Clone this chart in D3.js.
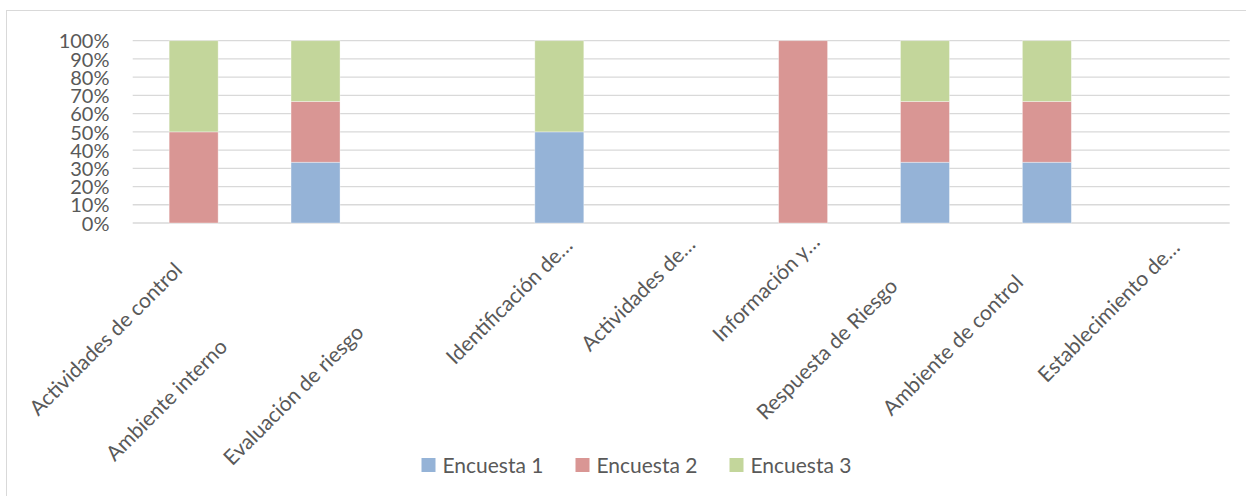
<!DOCTYPE html>
<html>
<head>
<meta charset="utf-8">
<script src="https://cdn.jsdelivr.net/npm/d3@7"></script>
<style>
  body { margin: 0; background: #fff; }
  svg { display: block; font-family: Lato, "Open Sans", sans-serif; }
</style>
</head>
<body>
<svg id="chart" width="1246" height="496"></svg>
<script>
// Components evaluated in each survey (labels as shown on the axis)
const categories = [
  "Actividades de control",
  "Ambiente interno",
  "Evaluación de riesgo",
  "Identificación de…",
  "Actividades de…",
  "Información y…",
  "Respuesta de Riesgo",
  "Ambiente de control",
  "Establecimiento de…"
];

// Responses per component in each survey (shown as share of the component total)
const encuesta1 = [0, 1, 0, 1, 0, 0, 1, 1, 0];
const encuesta2 = [1, 1, 0, 0, 0, 1, 1, 1, 0];
const encuesta3 = [1, 1, 0, 1, 0, 0, 1, 1, 0];
const seriesNames = ["Encuesta 1", "Encuesta 2", "Encuesta 3"];

// Percent axis ticks
const yTicks = [0, 0.1, 0.2, 0.3, 0.4, 0.5, 0.6, 0.7, 0.8, 0.9, 1];

// ---- layout ----
const colors = ["#95b3d7", "#d99694", "#c3d69b"];
const textColor = "#595959";
const gridColor = "#d9d9d9";
const plot = { left: 132.7, right: 1229.7, top: 40.7, bottom: 223 };
// how far each rotated axis label sits along its diagonal from the tick
const labelShift = [-88, -149, -144, -50, -43, -37, -98, -94, -60];

const svg = d3.select("#chart");

// chart frame
svg.append("rect")
  .attr("x", 6.5).attr("y", 10.5)
  .attr("width", 1300).attr("height", 600)
  .attr("fill", "none").attr("stroke", gridColor).attr("stroke-width", 1);

const rows = categories.map((c, i) => ({
  category: c,
  "Encuesta 1": encuesta1[i],
  "Encuesta 2": encuesta2[i],
  "Encuesta 3": encuesta3[i]
}));

const stacked = d3.stack()
  .keys(seriesNames)
  .offset(d3.stackOffsetExpand)(rows);

const x = d3.scaleBand()
  .domain(categories)
  .range([plot.left, plot.right])
  .paddingInner(0.598)
  .paddingOuter(0.299);

const y = d3.scaleLinear()
  .domain([0, 1])
  .range([plot.bottom, plot.top]);

// gridlines
svg.append("g")
  .selectAll("line")
  .data(yTicks)
  .join("line")
  .attr("x1", plot.left).attr("x2", plot.right)
  .attr("y1", d => y(d)).attr("y2", d => y(d))
  .attr("stroke", gridColor).attr("stroke-width", 1.3);

// y axis labels
const yAxis = d3.axisLeft(y)
  .tickValues(yTicks)
  .tickFormat(d3.format(".0%"))
  .tickSize(0)
  .tickPadding(0);
const yg = svg.append("g")
  .attr("transform", `translate(109.5,0)`)
  .call(yAxis);
yg.select(".domain").remove();
yg.selectAll("text")
  .attr("fill", textColor)
  .attr("font-family", "Lato, sans-serif")
  .attr("font-size", 20)
  .attr("dy", "0.36em");

// stacked bars
svg.append("g")
  .selectAll("g")
  .data(stacked)
  .join("g")
  .attr("fill", (d, i) => colors[i])
  .selectAll("rect")
  .data(d => d.map(v => ({ v, cat: v.data.category })))
  .join("rect")
  .attr("x", d => x(d.cat))
  .attr("width", x.bandwidth())
  .attr("y", d => y(d.v[1]))
  .attr("height", d => y(d.v[0]) - y(d.v[1]))
  .attr("stroke", "#ffffff").attr("stroke-opacity", 0.45).attr("stroke-width", 0.8);

// rotated category labels
svg.append("g")
  .selectAll("text")
  .data(categories)
  .join("text")
  .attr("transform", (d, i) => {
    const cx = x(d) + x.bandwidth() / 2 + labelShift[i];
    const cy = y(0) + 28 - labelShift[i];
    return `translate(${cx},${cy}) rotate(-45)`;
  })
  .attr("text-anchor", "middle")
  .attr("dy", "0.35em")
  .attr("fill", textColor)
  .attr("font-size", 21)
  .text(d => d);

// legend
const legend = svg.append("g");
const items = legend.selectAll("g")
  .data(seriesNames)
  .join("g");
items.append("rect")
  .attr("width", 14).attr("height", 14)
  .attr("y", 458)
  .attr("fill", (d, i) => colors[i]);
items.append("text")
  .attr("x", 21).attr("y", 472.5)
  .attr("fill", textColor)
  .attr("font-size", 21)
  .text(d => d);
const widths = [];
items.each(function () {
  widths.push(21 + this.querySelector("text").getComputedTextLength());
});
const gap = 32;
const total = d3.sum(widths) + gap * (widths.length - 1);
let start = 636.5 - total / 2;
items.attr("transform", (d, i) => {
  const t = `translate(${start},0)`;
  start += widths[i] + gap;
  return t;
});
</script>
</body>
</html>
